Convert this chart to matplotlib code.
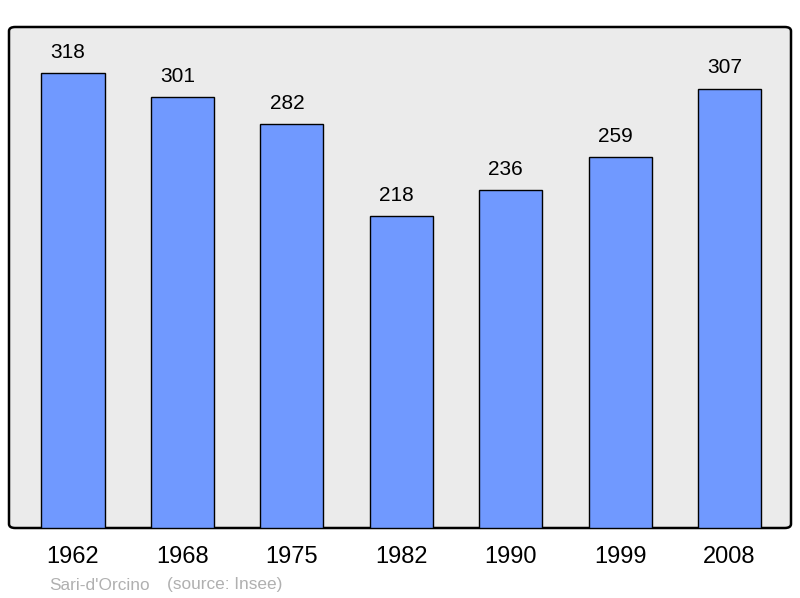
import matplotlib.pyplot as plt
from matplotlib.patches import FancyBboxPatch

years = ['1962', '1968', '1975', '1982', '1990', '1999', '2008']
population = [318, 301, 282, 218, 236, 259, 307]
commune = "Sari-d'Orcino"
source = '(source: Insee)'


def main():
    plt.rcParams['font.family'] = ['Liberation Sans', 'DejaVu Sans']
    fig = plt.figure(figsize=(8, 5.98), dpi=100)
    ax = fig.add_axes([9 / 800, 70 / 598, 782 / 800, 501 / 598])

    # background and rounded frame
    ax.set_facecolor('none')
    frame = FancyBboxPatch((0, 0), 1, 1, boxstyle='round,pad=0,rounding_size=0.008',
                           transform=ax.transAxes, facecolor='#ebebeb',
                           edgecolor='black', linewidth=1.8, zorder=0, clip_on=False)
    ax.add_patch(frame)
    for s in ax.spines.values():
        s.set_visible(False)

    x = range(len(years))
    ax.bar(x, population, width=0.576, color='#7099ff', edgecolor='black',
           linewidth=1.0, zorder=2)
    for xi, v in zip(x, population):
        ax.annotate(str(v), (xi, v), xytext=(-3.5, 8), textcoords='offset points',
                    ha='center', va='bottom', fontsize=15, color='black')

    ax.set_xlim(-0.585, 6.562)
    ax.set_ylim(0, 350)
    ax.set_yticks([])
    ax.set_xticks(list(x))
    ax.set_xticklabels(years, fontsize=17)
    ax.tick_params(axis='x', length=0, pad=13)

    fig.text(49 / 800, 1 - 585 / 598, commune, fontsize=12.4, color='#b0b0b0',
             ha='left', va='center')
    fig.text(167 / 800, 1 - 585 / 598, source, fontsize=12.4, color='#b0b0b0',
             ha='left', va='center')

    fig.savefig('out.png', dpi=100)


if __name__ == '__main__':
    main()
